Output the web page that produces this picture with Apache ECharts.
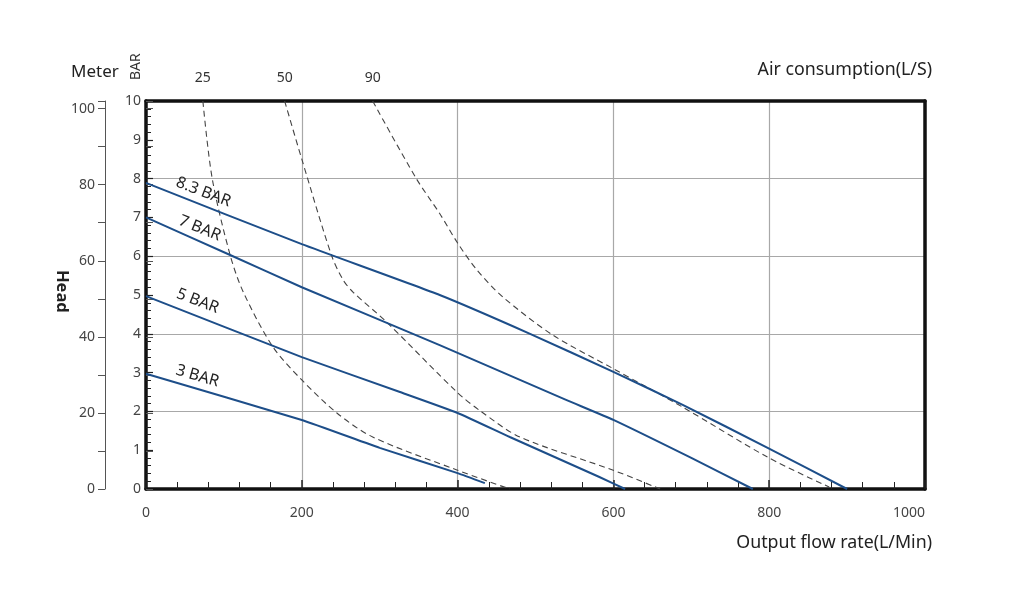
<!DOCTYPE html>
<html>
<head>
<meta charset="utf-8">
<script src="https://cdn.jsdelivr.net/npm/echarts@6/dist/echarts.min.js"></script>
<style>
  html, body { margin:0; padding:0; background:#fff; }
  #chart { width:1024px; height:591px; }
</style>
</head>
<body>
<div id="chart"></div>
<script>
// 泵性能曲线数据 (流量 L/Min , 扬程 BAR)
var bar83Flow = [0, 200, 377, 493, 600, 689, 798, 900];
var bar83Head = [7.89, 6.31, 5.0, 4.0, 3.02, 2.17, 1.06, 0];
var bar7Flow = [0, 108, 200, 377, 540, 600, 700, 779];
var bar7Head = [7.0, 6.03, 5.2, 3.71, 2.29, 1.78, 0.8, 0];
var bar5Flow = [0, 200, 326, 400, 467, 582, 615];
var bar5Head = [4.97, 3.40, 2.5, 1.96, 1.34, 0.31, 0];
var bar3Flow = [0, 200, 300, 400, 435];
var bar3Head = [2.97, 1.78, 1.06, 0.41, 0.15];

// 耗气量曲线 (L/S)
var air25Flow = [73, 85, 108, 125, 163, 200, 245, 291, 399, 467];
var air25Head = [10, 8.0, 6.03, 5.07, 3.66, 2.81, 1.96, 1.34, 0.49, 0];
var air50Flow = [178, 200, 238, 253, 266, 309, 399, 430, 480, 599, 660];
var air50Head = [10, 8.5, 6.03, 5.39, 5.07, 4.3, 2.5, 2.0, 1.34, 0.49, 0];
var air90Flow = [291, 347, 377, 400, 425, 458, 522, 600, 689, 798, 877];
var air90Head = [10, 8.0, 7.1, 6.34, 5.64, 4.95, 3.97, 3.1, 2.11, 0.82, 0.05];

var pressureNames = ['8.3 BAR', '7 BAR', '5 BAR', '3 BAR'];
var airNames = ['25', '50', '90'];

var xLabels = [0, 200, 400, 600, 800, 1000];

var font = 'Noto Sans';
var blue = '#1d4e89';

function pairs(xs, ys){
  var out = [];
  for (var i = 0; i < xs.length; i++) out.push([xs[i], ys[i]]);
  return out;
}

// 压力曲线，首点带斜体标签
function pressureSeries(name, xs, ys, rot, off){
  var d = pairs(xs, ys).map(function(p, i){
    var item = {value: p};
    if (i === 0) {
      item.label = {
        show: true, position: 'inside', formatter: name,
        rotate: rot, offset: off,
        color: '#222', fontSize: 16, fontFamily: font
      };
    }
    return item;
  });
  return {
    name: name, type: 'line', data: d,
    symbol: 'circle', symbolSize: 0, showSymbol: true,
    smooth: 0.15,
    lineStyle: {color: blue, width: 2},
    itemStyle: {color: blue},
    z: 5
  };
}

// 耗气量虚线，顶部带数值标签
function airSeries(name, xs, ys){
  var d = pairs(xs, ys).map(function(p, i){
    var item = {value: p};
    if (i === 0) {
      item.label = {
        show: true, position: 'top', distance: 16, formatter: name,
        color: '#333', fontSize: 14, fontFamily: font
      };
    }
    return item;
  });
  return {
    name: name, type: 'line', data: d,
    symbol: 'circle', symbolSize: 0, showSymbol: true,
    smooth: 0.3,
    lineStyle: {color: '#444', width: 1.1, type: [6, 4]},
    itemStyle: {color: '#444'},
    z: 4
  };
}

var chart = echarts.init(document.getElementById('chart'));

var option = {
  animation: false,
  grid: {left: 146, right: 99, top: 101, bottom: 102, containLabel: false},
  xAxis: [
    {
      type: 'value', position: 'bottom', min: 0, max: 1000, interval: 200,
      axisLine: {show: true, onZero: false, lineStyle: {color: '#111', width: 3.5}},
      axisTick: {show: true, inside: true, length: 9, lineStyle: {color: '#222', width: 1.5}},
      minorTick: {show: true, splitNumber: 5, length: 7, lineStyle: {color: '#222', width: 1}},
      splitLine: {show: true, lineStyle: {color: '#a8a8a8', width: 1.2}},
      axisLabel: {
        margin: 17, color: '#444', fontSize: 14, fontFamily: font,
        alignMaxLabel: 'right',
        formatter: function(v){ return xLabels.indexOf(v) >= 0 ? String(v) : ''; }
      }
    },
    {
      type: 'value', position: 'top', min: 0, max: 1000,
      axisLine: {show: true, onZero: false, lineStyle: {color: '#111', width: 3.5}},
      axisTick: {show: false}, axisLabel: {show: false}, splitLine: {show: false}
    }
  ],
  yAxis: [
    { // BAR 网格线 (每 2 BAR)
      type: 'value', position: 'left', min: 0, max: 10, interval: 2,
      axisLine: {show: true, onZero: false, lineStyle: {color: '#111', width: 3.5}},
      axisTick: {show: false}, axisLabel: {show: false},
      splitLine: {show: true, lineStyle: {color: '#a8a8a8', width: 1.2}}
    },
    { // BAR 刻度
      type: 'value', position: 'left', min: 0, max: 10, interval: 1,
      axisLine: {show: false},
      axisTick: {show: true, inside: true, length: 7, lineStyle: {color: '#222', width: 1.2}},
      minorTick: {show: true, splitNumber: 5, length: 5, lineStyle: {color: '#222', width: 1}},
      splitLine: {show: false},
      axisLabel: {margin: 5, color: '#444', fontSize: 14, fontFamily: font}
    },
    { // 右边框
      type: 'value', position: 'right', min: 0, max: 10,
      axisLine: {show: true, onZero: false, lineStyle: {color: '#111', width: 3.5}},
      axisTick: {show: false}, axisLabel: {show: false}, splitLine: {show: false}
    },
    { // Meter 轴
      type: 'value', position: 'left', offset: 41, min: 0, max: 102, interval: 10,
      axisLine: {show: true, onZero: false, lineStyle: {color: '#555', width: 1}},
      axisTick: {show: true, length: 7, lineStyle: {color: '#555', width: 1}},
      splitLine: {show: false},
      axisLabel: {
        margin: 10, color: '#444', fontSize: 14, fontFamily: font,
        formatter: function(v){ return (v % 20 === 0) ? String(v) : ''; }
      }
    },
    { // Meter 内侧刻度
      type: 'value', position: 'left', offset: 41, min: 0, max: 102, interval: 10,
      axisLine: {show: false},
      axisTick: {show: true, inside: true, length: 7, lineStyle: {color: '#555', width: 1}},
      splitLine: {show: false}, axisLabel: {show: false}
    }
  ],
  graphic: [
    {type: 'text', left: 71, top: 64, style: {text: 'Meter', fontSize: 17, fill: '#222', fontFamily: font}},
    {type: 'text', x: 129, y: 80, rotation: Math.PI / 2, style: {text: 'BAR', fontSize: 14, fill: '#333', fontFamily: font}},
    {type: 'text', x: 70, y: 270, rotation: -Math.PI / 2, style: {text: 'Head', fontSize: 16.5, fontWeight: 'bold', fill: '#222', fontFamily: font}},
    {type: 'text', right: 92, top: 61, style: {text: 'Air consumption(L/S)', fontSize: 17.8, fill: '#222', fontFamily: font}},
    {type: 'text', right: 92, top: 534, style: {text: 'Output flow rate(L/Min)', fontSize: 17.8, fill: '#222', fontFamily: font}}
  ],
  series: [
    pressureSeries(pressureNames[0], bar83Flow, bar83Head, -21, [57, -12]),
    pressureSeries(pressureNames[1], bar7Flow, bar7Head, -22, [54, -10]),
    pressureSeries(pressureNames[2], bar5Flow, bar5Head, -21, [50, -14]),
    pressureSeries(pressureNames[3], bar3Flow, bar3Head, -16, [50, -12]),
    airSeries(airNames[0], air25Flow, air25Head),
    airSeries(airNames[1], air50Flow, air50Head),
    airSeries(airNames[2], air90Flow, air90Head)
  ]
};

chart.setOption(option);
</script>
</body>
</html>
